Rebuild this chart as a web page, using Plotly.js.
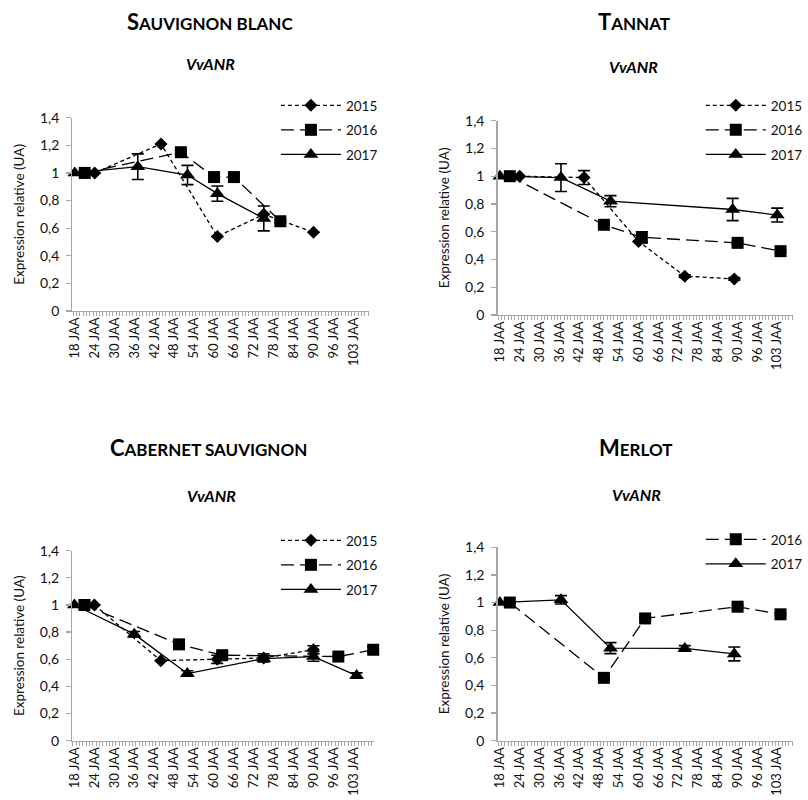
<!DOCTYPE html>
<html>
<head>
<meta charset="utf-8">
<script src="https://cdn.plot.ly/plotly-3.0.1.min.js"></script>
<style>html,body{margin:0;padding:0;background:#fff;}#chart{width:808px;height:800px;}</style>
</head>
<body>
<div id="chart"></div>
<script>
// ---------- data (days after flowering, relative expression) ----------
const tickDays = [18, 24, 30, 36, 42, 48, 54, 60, 66, 72, 78, 84, 90, 96, 102];
const tickLabels = ["18 JAA", "24 JAA", "30 JAA", "36 JAA", "42 JAA", "48 JAA", "54 JAA", "60 JAA", "66 JAA", "72 JAA", "78 JAA", "84 JAA", "90 JAA", "96 JAA", "103 JAA"];
const yTickVals = [0, 0.2, 0.4, 0.6, 0.8, 1, 1.2, 1.4];
const yTickText = ["0", "0,2", "0,4", "0,6", "0,8", "1", "1,2", "1,4"];

// Sauvignon blanc
const sb2015_x = [24, 44, 61, 75, 90];
const sb2015_y = [1.00, 1.21, 0.54, 0.70, 0.57];
const sb2015_e = [null, null, null, null, null];
const sb2016_x = [21, 50, 60, 66, 80];
const sb2016_y = [1.00, 1.15, 0.97, 0.97, 0.65];
const sb2016_e = [null, 0.01, 0.02, 0.01, 0.01];
const sb2017_x = [18, 37, 52, 61, 75];
const sb2017_y = [1.00, 1.045, 0.985, 0.85, 0.67];
const sb2017_e = [null, 0.093, 0.07, 0.055, 0.09];

// Tannat
const ta2015_x = [24, 43.5, 60, 74, 89];
const ta2015_y = [1.00, 0.99, 0.53, 0.28, 0.26];
const ta2015_e = [null, 0.05, null, 0.01, 0.01];
const ta2016_x = [21, 49.5, 61, 90, 103];
const ta2016_y = [1.00, 0.65, 0.56, 0.52, 0.46];
const ta2016_e = [null, null, 0.04, 0.01, 0.01];
const ta2017_x = [18, 36.5, 51.5, 88.5, 102];
const ta2017_y = [1.00, 0.99, 0.82, 0.76, 0.72];
const ta2017_e = [null, 0.10, 0.04, 0.08, 0.05];

// Cabernet sauvignon
const cs2015_x = [24, 44, 61, 75, 90];
const cs2015_y = [1.00, 0.59, 0.60, 0.61, 0.67];
const cs2015_e = [null, null, 0.03, 0.03, 0.03];
const cs2016_x = [21, 49.5, 62.5, 97.5, 108];
const cs2016_y = [1.00, 0.71, 0.63, 0.62, 0.67];
const cs2016_e = [null, null, 0.02, null, 0.02];
const cs2017_x = [18, 36, 52, 75, 90, 103];
const cs2017_y = [1.00, 0.785, 0.495, 0.605, 0.62, 0.48];
const cs2017_e = [null, 0.02, 0.02, 0.02, 0.035, 0.02];

// Merlot
const me2016_x = [21, 49.5, 62, 90, 103];
const me2016_y = [1.00, 0.455, 0.885, 0.97, 0.915];
const me2016_e = [null, 0.01, 0.01, 0.01, 0.01];
const me2017_x = [18, 36.5, 51.5, 74, 89];
const me2017_y = [1.00, 1.02, 0.67, 0.668, 0.628];
const me2017_e = [null, 0.03, 0.04, 0.02, 0.05];

// ---------- styles ----------
const FONT = "Lato, 'Open Sans', sans-serif";
const AX = "#a6a6a6";
const TXT = "#111";
const styles = {
  "2015": {dash: "4px,3px", symbol: "diamond", size: 10},
  "2016": {dash: "13px,6px", symbol: "square", size: 12},
  "2017": {dash: "solid", symbol: "triangle-up", size: 13}
};

function tr(name, x, y, e, n, legend) {
  const s = styles[name];
  return {
    type: "scatter", mode: "lines+markers", name: name,
    x: x, y: y, xaxis: "x" + (n === 1 ? "" : n), yaxis: "y" + (n === 1 ? "" : n),
    legend: legend, legendgroup: legend + name, cliponaxis: false,
    line: {color: "#000", width: 1.3, dash: s.dash},
    marker: {color: "#000", symbol: s.symbol, size: s.size},
    error_y: {type: "data", array: e, visible: true, color: "#000", thickness: 1.6, width: 6}
  };
}

const data = [
  tr("2015", sb2015_x, sb2015_y, sb2015_e, 1, "legend"),
  tr("2016", sb2016_x, sb2016_y, sb2016_e, 1, "legend"),
  tr("2017", sb2017_x, sb2017_y, sb2017_e, 1, "legend"),
  tr("2015", ta2015_x, ta2015_y, ta2015_e, 2, "legend2"),
  tr("2016", ta2016_x, ta2016_y, ta2016_e, 2, "legend2"),
  tr("2017", ta2017_x, ta2017_y, ta2017_e, 2, "legend2"),
  tr("2015", cs2015_x, cs2015_y, cs2015_e, 3, "legend3"),
  tr("2016", cs2016_x, cs2016_y, cs2016_e, 3, "legend3"),
  tr("2017", cs2017_x, cs2017_y, cs2017_e, 3, "legend3"),
  tr("2016", me2016_x, me2016_y, me2016_e, 4, "legend4"),
  tr("2017", me2017_x, me2017_y, me2017_e, 4, "legend4")
];

const W = 808, H = 800;
function px(a, b) { return [a / W, b / W]; }
function py(top, bottom) { return [1 - bottom / H, 1 - top / H]; }

function xa(domain, anchor, xmax) {
  return {
    domain: domain, anchor: anchor, range: [17.3, xmax],
    tickmode: "array", tickvals: tickDays, ticktext: tickLabels, tickangle: -90,
    ticks: "", showline: true, linecolor: AX, linewidth: 1.3, showgrid: false, zeroline: false,
    tickfont: {family: FONT, size: 13, color: TXT},
    minor: {tickmode: "linear", tick0: 17.5, dtick: 1, ticks: "outside", ticklen: 4, tickcolor: AX, tickwidth: 1, showgrid: false}
  };
}
function ya(domain, anchor) {
  return {
    domain: domain, anchor: anchor, range: [0, 1.4],
    tickmode: "array", tickvals: yTickVals, ticktext: yTickText,
    ticks: "outside", ticklen: 5, tickcolor: AX, tickwidth: 1.3, ticklabelstandoff: 4,
    showline: true, linecolor: AX, linewidth: 1.3, showgrid: false, zeroline: false,
    tickfont: {family: FONT, size: 14, color: TXT},
    title: {text: "Expression relative (UA)", font: {family: FONT, size: 13.5, color: TXT}, standoff: 12}
  };
}
function leg(x, yTop) {
  return {
    x: x / W, y: 1 - yTop / H, xanchor: "left", yanchor: "top",
    bgcolor: "rgba(0,0,0,0)", itemwidth: 60, tracegroupgap: 4,
    font: {family: FONT, size: 13.5, color: TXT}, itemclick: false
  };
}
function title(x, y, big, small) {
  return {
    xref: "paper", yref: "paper", x: x / W, y: 1 - y / H, xanchor: "center", yanchor: "middle",
    showarrow: false,
    text: "<b>" + big + "<span style='font-size:17px'>" + small + "</span></b>",
    font: {family: FONT, size: 22, color: "#000"}
  };
}
function gene(x, y) {
  return {
    xref: "paper", yref: "paper", x: x / W, y: 1 - y / H, xanchor: "center", yanchor: "middle",
    showarrow: false, text: "<b><i>VvANR</i></b>",
    font: {family: FONT, size: 16, color: "#000"}
  };
}

const layout = {
  width: W, height: H, margin: {l: 0, r: 0, t: 0, b: 0},
  paper_bgcolor: "#fff", plot_bgcolor: "#fff", showlegend: true,
  font: {family: FONT, color: TXT},
  xaxis: xa(px(73, 372), "y", 106.8),
  yaxis: ya(py(117.7, 311), "x"),
  xaxis2: xa(px(501.3, 799), "y2", 106.8),
  yaxis2: ya(py(120.7, 315), "x2"),
  xaxis3: xa(px(72.7, 377), "y3", 108.3),
  yaxis3: ya(py(550.7, 740.7), "x3"),
  xaxis4: xa(px(501.3, 799), "y4", 106.8),
  yaxis4: ya(py(547.3, 740.7), "x4"),
  legend: leg(278, 90),
  legend2: leg(706, 90),
  legend3: leg(278, 525),
  legend4: leg(706, 524),
  annotations: [
    title(212, 22, "S", "AUVIGNON BLANC"), gene(212, 64),
    title(639, 22, "T", "ANNAT"), gene(638, 66),
    title(210, 447, "C", "ABERNET SAUVIGNON"), gene(213, 495),
    title(640, 447, "M", "ERLOT"), gene(641, 494)
  ]
};

Plotly.newPlot("chart", data, layout, {displayModeBar: false, staticPlot: true});
</script>
</body>
</html>
